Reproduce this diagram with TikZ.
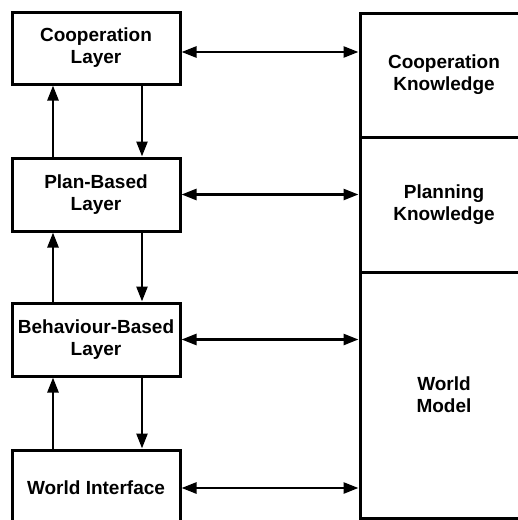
\documentclass[tikz,border=0pt]{standalone}
\usepackage{fontspec}
\setmainfont{Liberation Sans}
\usetikzlibrary{arrows.meta}
\begin{document}
\begin{tikzpicture}[x=1pt, y=-1pt,
    layer/.style={draw, line width=3pt, minimum width=168pt, inner sep=0pt,
        align=center, font=\fontsize{19}{22}\selectfont\bfseries},
    flow/.style={line width=2.6pt, -{Triangle[length=15pt,width=11pt]}},
    link/.style={line width=2.6pt, {Triangle[length=15pt,width=11pt]}-{Triangle[length=15pt,width=11pt]}}]
            % frame
            \clip (0,0) rectangle (518,520);
            
            % layers
            \node[layer, minimum height=72pt] (coopL) at (96,48) {Cooperation\\Layer};
            \node[layer, minimum height=73pt] (planL) at (96,194.5) {Plan-Based\\Layer};
            \node[layer, minimum height=73pt] (behavL) at (96,339.5) {Behaviour-Based\\Layer};
            \node[layer, minimum height=76pt] (worldL) at (96,488) {World Interface};
            
            % knowledge
            \node[layer, minimum height=124pt] (coopK) at (444,75) {Cooperation\\Knowledge};
            \node[layer, minimum height=135pt] (planK) at (444,204.5) {Planning\\Knowledge};
            \node[layer, minimum height=246pt] (worldK) at (444,395) {World\\Model};
            
            % up and down between layers
            \draw[flow] ([xshift=-43pt]planL.north) -- ([xshift=-43pt]coopL.south);
            \draw[flow] ([xshift=46pt]coopL.south) -- ([xshift=46pt]planL.north);
            \draw[flow] ([xshift=-43pt]behavL.north) -- ([xshift=-43pt]planL.south);
            \draw[flow] ([xshift=46pt]planL.south) -- ([xshift=46pt]behavL.north);
            \draw[flow] ([xshift=-43pt]worldL.north) -- ([xshift=-43pt]behavL.south);
            \draw[flow] ([xshift=46pt]behavL.south) -- ([xshift=46pt]worldL.north);
            
            % access to knowledge
            \draw[link] ([yshift=-4pt]coopL.east) -- ([yshift=-4pt]coopL.east -| coopK.west);
            \draw[link] (planL.east) -- (planL.east -| planK.west);
            \draw[link] (behavL.east) -- (behavL.east -| worldK.west);
            \draw[link] (worldL.east) -- (worldL.east -| worldK.west);
        \end{tikzpicture}
\end{document}
